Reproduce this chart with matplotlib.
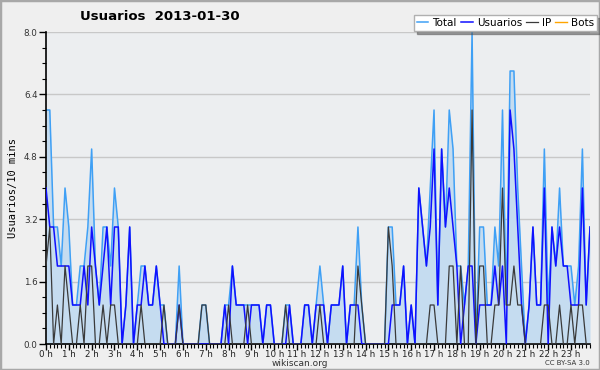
import matplotlib
matplotlib.use('Agg')
import matplotlib.pyplot as plt
import numpy as np

# 10-minute slots, 12 per row = 2 hours
total = [6, 6, 3, 3, 2, 4, 3, 1, 1, 2, 2, 3,
         5, 2, 1, 3, 3, 2, 4, 3, 0, 1, 3, 0,
         1, 2, 2, 1, 1, 2, 1, 1, 0, 0, 0, 2,
         0, 0, 0, 0, 0, 1, 1, 0, 0, 0, 0, 1,
         1, 2, 1, 1, 1, 1, 1, 1, 1, 0, 1, 1,
         0, 0, 0, 1, 1, 0, 0, 0, 1, 1, 0, 1,
         2, 1, 0, 1, 1, 1, 2, 0, 1, 1, 3, 1,
         0, 0, 0, 0, 0, 0, 3, 3, 1, 1, 2, 0,
         1, 0, 4, 3, 2, 4, 6, 1, 5, 3, 6, 5,
         2, 2, 1, 2, 8, 0, 3, 3, 1, 1, 3, 2,
         6, 1, 7, 7, 4, 2, 0, 1, 3, 1, 1, 5,
         1, 3, 2, 4, 2, 2, 2, 1, 2, 5, 1, 3]
usuarios = [4, 3, 3, 2, 2, 2, 2, 1, 1, 1, 2, 1,
            3, 2, 1, 2, 3, 1, 3, 3, 0, 1, 3, 0,
            1, 1, 2, 1, 1, 2, 1, 0, 0, 0, 0, 1,
            0, 0, 0, 0, 0, 0, 0, 0, 0, 0, 0, 1,
            0, 2, 1, 1, 1, 0, 1, 1, 1, 0, 1, 1,
            0, 0, 0, 0, 1, 0, 0, 0, 1, 1, 0, 1,
            1, 1, 0, 1, 1, 1, 2, 0, 1, 1, 1, 0,
            0, 0, 0, 0, 0, 0, 0, 1, 1, 1, 2, 0,
            1, 0, 4, 3, 2, 3, 5, 1, 5, 3, 4, 3,
            2, 0, 1, 2, 2, 0, 1, 1, 1, 1, 2, 1,
            2, 0, 6, 5, 3, 1, 0, 1, 3, 1, 1, 4,
            0, 3, 2, 3, 2, 2, 1, 1, 1, 4, 1, 3]
ip = [2, 3, 0, 1, 0, 2, 1, 0, 0, 1, 0, 2,
      2, 0, 0, 1, 0, 1, 1, 0, 0, 0, 0, 0,
      0, 1, 0, 0, 0, 0, 0, 1, 0, 0, 0, 1,
      0, 0, 0, 0, 0, 1, 1, 0, 0, 0, 0, 0,
      1, 0, 0, 0, 0, 1, 0, 0, 0, 0, 0, 0,
      0, 0, 0, 1, 0, 0, 0, 0, 0, 0, 0, 0,
      1, 0, 0, 0, 0, 0, 0, 0, 0, 0, 2, 1,
      0, 0, 0, 0, 0, 0, 3, 2, 0, 0, 0, 0,
      0, 0, 0, 0, 0, 1, 1, 0, 0, 0, 2, 2,
      0, 2, 0, 0, 6, 0, 2, 2, 0, 0, 1, 1,
      4, 1, 1, 2, 1, 1, 0, 0, 0, 0, 0, 1,
      1, 0, 0, 1, 0, 0, 1, 0, 1, 1, 0, 0]
bots = [0] * 144
hours = [str(h) + ' h' for h in range(24)]
yticks = [0.0, 1.6, 3.2, 4.8, 6.4, 8.0]

x = np.arange(len(total))

fig = plt.figure(figsize=(6, 3.7), dpi=100, facecolor='#efefef')
fig.patches.append(plt.Rectangle((0, 0), 1, 1, transform=fig.transFigure,
                                 fill=False, edgecolor='#a8a8a8', lw=2.5))
ax = fig.add_axes([46/600, 1-344/370, 544/600, 312/370])
ax.set_facecolor('#eceef0')

ax.fill_between(x, 0, total, color='#c5dcf0', lw=0, zorder=1)
l_bots, = ax.plot(x, bots, color='#ffa500', lw=1, zorder=0.5, label='Bots')
l_total, = ax.plot(x, total, color='#3fa0f5', lw=1.1, zorder=2, label='Total')
l_usu, = ax.plot(x, usuarios, color='#1010ff', lw=1.1, zorder=3, label='Usuarios')
l_ip, = ax.plot(x, ip, color='#3a3a3a', lw=0.9, zorder=4, label='IP')

ax.set_xlim(0, 143)
ax.set_ylim(0, 8)
ax.set_yticks(yticks)
ax.set_yticklabels(['%.1f' % v for v in yticks], fontsize=6.3, color='#333333')
ax.set_yticks(np.arange(0, 8.01, 0.4), minor=True)
ax.set_xticks(np.arange(0, 144, 6))
ax.set_xticklabels(hours, fontsize=6.3, color='#222222')
ax.set_xticks(np.arange(0, 144, 1), minor=True)
ax.tick_params(axis='x', which='major', length=4, width=1, pad=0.5)
ax.tick_params(axis='x', which='minor', length=3, width=0.8)
ax.tick_params(axis='y', which='major', length=5, width=1, pad=1)
ax.tick_params(axis='y', which='minor', length=3, width=0.8)
ax.grid(axis='y', which='major', color='#c8c8c8', lw=1)
ax.set_axisbelow(True)
for s in ['top', 'right']:
    ax.spines[s].set_visible(False)
ax.spines['left'].set_linewidth(1.2)
ax.spines['bottom'].set_linewidth(1.2)

ax.set_ylabel('Usuarios/10 mins', family='DejaVu Sans Mono', fontsize=7.5, labelpad=4)

fig.text(80/600, 1-16/370, 'Usuarios  2013-01-30', fontsize=9.5, fontweight='bold',
         va='center', ha='left')
fig.text(300/600, 1-363/370, 'wikiscan.org', fontsize=6.5, ha='center', va='center', color='#333333')
fig.text(590/600, 1-363/370, 'CC BY-SA 3.0', fontsize=5, ha='right', va='center', color='#333333')

leg = fig.legend([l_total, l_usu, l_ip, l_bots], ['Total', 'Usuarios', 'IP', 'Bots'],
                 loc='upper right', bbox_to_anchor=(597/600, 1-15/370), ncol=4,
                 fontsize=7.5, handlelength=1.1, handletextpad=0.4, columnspacing=0.4,
                 borderpad=0.3, frameon=True, fancybox=False, shadow=True,
                 borderaxespad=0)
leg.get_frame().set_facecolor('white')
leg.get_frame().set_edgecolor('#b0b0b0')

fig.savefig('out.png', dpi=100, facecolor=fig.get_facecolor())
